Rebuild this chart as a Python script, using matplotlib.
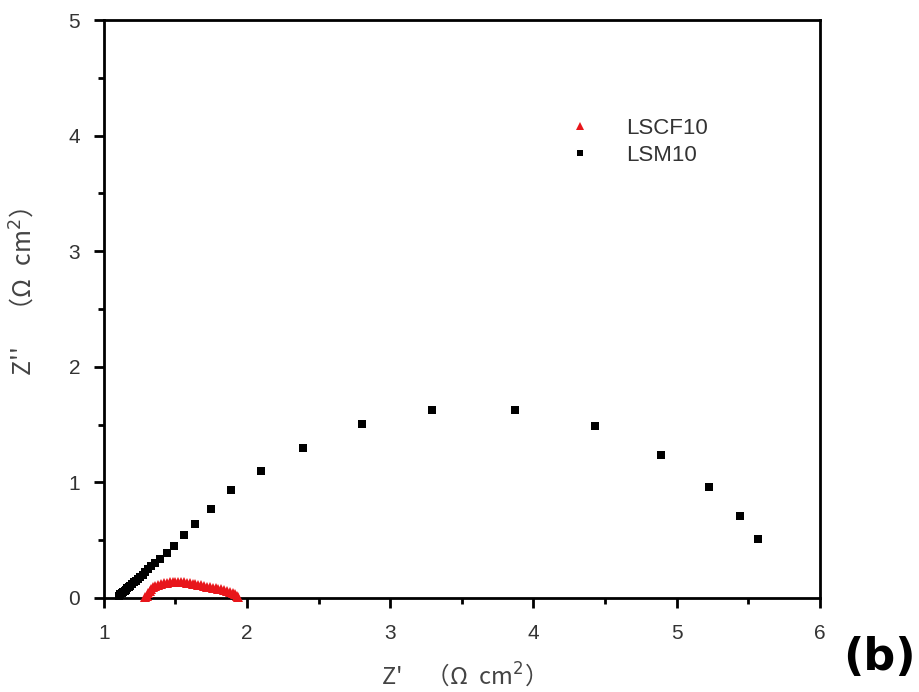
import numpy as np
import matplotlib
matplotlib.use("Agg")
import matplotlib.pyplot as plt
from matplotlib.ticker import MultipleLocator

plt.rcParams['font.family'] = ['Liberation Sans', 'DejaVu Sans']

# Nyquist data, LSM10 cathode
lsm_x = [1.105, 1.115, 1.125, 1.135, 1.145, 1.155, 1.165, 1.175, 1.185, 1.195,
         1.21, 1.225, 1.24, 1.255, 1.27, 1.29, 1.31, 1.33, 1.355, 1.39,
         1.44, 1.49, 1.56, 1.64, 1.75, 1.89, 2.10, 2.39, 2.80, 3.29,
         3.87, 4.43, 4.89, 5.23, 5.44, 5.57]
lsm_y = [0.02, 0.03, 0.04, 0.05, 0.06, 0.07, 0.085, 0.095, 0.105, 0.12,
         0.135, 0.15, 0.165, 0.185, 0.20, 0.225, 0.25, 0.275, 0.30, 0.34,
         0.39, 0.45, 0.54, 0.64, 0.77, 0.93, 1.10, 1.30, 1.505, 1.63,
         1.63, 1.49, 1.24, 0.96, 0.71, 0.51]

# Nyquist data, LSCF10 cathode
lscf_x = [1.29, 1.30, 1.31, 1.32, 1.33, 1.34, 1.36, 1.38, 1.40, 1.42,
          1.44, 1.46, 1.48, 1.50, 1.52, 1.54, 1.56, 1.58, 1.60, 1.62,
          1.64, 1.66, 1.68, 1.70, 1.72, 1.74, 1.76, 1.78, 1.80, 1.82,
          1.84, 1.86, 1.88, 1.90, 1.915, 1.93, 1.94]
lscf_y = [0.005, 0.02, 0.04, 0.06, 0.075, 0.09, 0.105, 0.115, 0.122, 0.128,
          0.132, 0.135, 0.137, 0.138, 0.138, 0.137, 0.135, 0.132, 0.128, 0.124,
          0.119, 0.114, 0.108, 0.102, 0.097, 0.092, 0.087, 0.082, 0.078, 0.073,
          0.068, 0.062, 0.055, 0.045, 0.032, 0.018, 0.005]

fig = plt.figure(figsize=(9.19, 6.92), dpi=100)
ax = fig.add_axes([0.113, 0.136, 0.779, 0.835])

ax.plot(lscf_x, lscf_y, '^', color='#e8161b', markersize=7, markeredgewidth=0,
        label='LSCF10', clip_on=False, zorder=3)
ax.plot(lsm_x, lsm_y, 's', color='black', markersize=6, markeredgewidth=0,
        label='LSM10', clip_on=False, zorder=4)

ax.set_xlim(1, 6)
ax.set_ylim(0, 5)
ax.xaxis.set_major_locator(MultipleLocator(1))
ax.xaxis.set_minor_locator(MultipleLocator(0.5))
ax.yaxis.set_major_locator(MultipleLocator(1))
ax.yaxis.set_minor_locator(MultipleLocator(0.5))

for s in ax.spines.values():
    s.set_linewidth(2)
ax.tick_params(which='major', direction='out', length=7, width=2,
               labelsize=15, labelcolor='#333333')
ax.tick_params(axis='x', which='major', pad=12)
ax.tick_params(axis='y', which='major', pad=10)
ax.tick_params(which='minor', direction='out', length=4, width=2)
ax.tick_params(top=False, right=False, which='both')

cjk = ['Noto Sans CJK SC', 'DejaVu Sans']
ax.set_xlabel("Z'\u3000（Ω\u2002cm$^2$）", fontsize=17, color='#444444',
              family=cjk)
ax.set_ylabel("Z''\u3000（Ω\u2002cm$^2$）", fontsize=18, color='#444444',
              family=cjk)
ax.xaxis.set_label_coords(0.494, -0.108)
ax.yaxis.set_label_coords(-0.092, 0.529)

leg = ax.legend(loc='upper left', bbox_to_anchor=(0.621, 0.865), frameon=False,
                fontsize=16, handlelength=1.0, handletextpad=1.6,
                labelspacing=0.25, markerscale=0.75)
for t in leg.get_texts():
    t.set_color('#333333')

fig.text(0.996, 0.05, '(b)', fontsize=32, fontweight='bold',
         ha='right', va='center', family=['DejaVu Sans'])

fig.savefig('out.png', dpi=100)
